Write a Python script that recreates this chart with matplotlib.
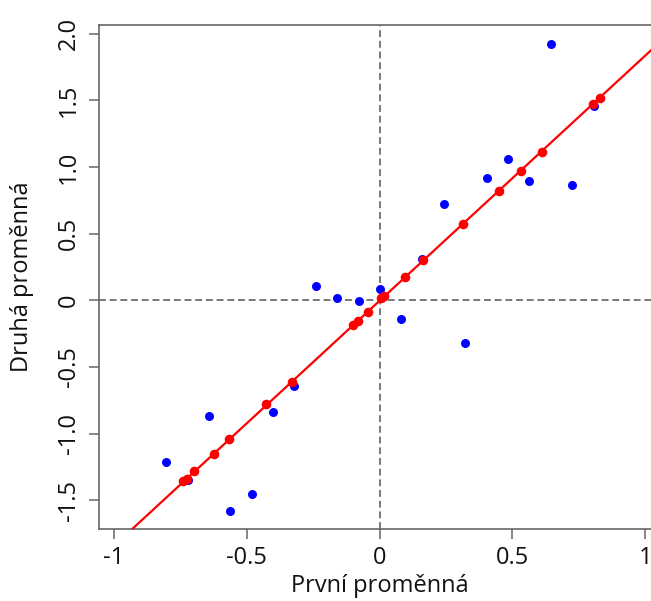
import matplotlib
matplotlib.use("Agg")
from matplotlib import pyplot as plt

plt.rcParams['font.family'] = ['Open Sans', 'DejaVu Sans']
plt.rcParams['axes.unicode_minus'] = False

# observed pairs
x_obs = [-0.803, -0.719, -0.642, -0.562, -0.481, -0.402, -0.321, -0.239,
         -0.161, -0.079, 0.002, 0.081, 0.159, 0.243, 0.323, 0.404,
         0.483, 0.564, 0.645, 0.725, 0.805]
y_obs = [-1.211, -1.348, -0.868, -1.581, -1.455, -0.836, -0.641, 0.105,
         0.020, -0.003, 0.081, -0.143, 0.308, 0.725, -0.318, 0.917,
         1.062, 0.897, 1.925, 0.863, 1.458]

# points projected onto the fitted line
x_proj = [-0.738, -0.725, -0.698, -0.623, -0.565, -0.427, -0.330, -0.100,
          -0.082, -0.042, 0.007, 0.017, 0.095, 0.163, 0.313, 0.449,
          0.532, 0.611, 0.803, 0.831]
y_proj = [-1.356, -1.343, -1.283, -1.151, -1.040, -0.780, -0.615, -0.185,
          -0.155, -0.085, 0.015, 0.032, 0.173, 0.300, 0.572, 0.818,
          0.968, 1.113, 1.473, 1.520]

line_intercept = -0.004
line_slope = 1.84

xticks = [-1, -0.5, 0, 0.5, 1]
xtick_labels = ["-1", "-0.5", "0", "0.5", "1"]
yticks = [-1.5, -1.0, -0.5, 0, 0.5, 1.0, 1.5, 2.0]
ytick_labels = ["-1.5", "-1.0", "-0.5", "0", "0.5", "1.0", "1.5", "2.0"]

fig = plt.figure(figsize=(6.51, 6.01), dpi=100)
ax = fig.add_axes([0.1521, 0.1193, 0.8618, 0.8391])

ax.set_xlim(-1.0553, 1.0553)
ax.set_ylim(-1.718, 2.065)

ax.axhline(0, color="#555555", lw=1.1, dashes=(4.5, 2.5), zorder=1)
ax.axvline(0, color="#555555", lw=1.1, dashes=(4.5, 2.5), zorder=1)

ax.scatter(x_obs, y_obs, s=42, color="#0000ff", linewidths=0, zorder=2)
ax.axline((0, line_intercept), slope=line_slope, color="#ff0000", lw=1.6, zorder=3)
ax.scatter(x_proj, y_proj, s=48, color="#ff0000", linewidths=0, zorder=4)

for side in ["left", "bottom", "top", "right"]:
    ax.spines[side].set_color("#666666")
    ax.spines[side].set_linewidth(1.2)

ax.set_xticks(xticks)
ax.set_xticklabels(xtick_labels)
ax.set_yticks(yticks)
ax.set_yticklabels(ytick_labels, rotation=90, va="center")
ax.tick_params(axis="both", length=7, width=1.1, color="#666666",
               labelsize=17, labelcolor="#111111")
ax.tick_params(axis="x", pad=5)
ax.tick_params(axis="y", pad=6)

ax.set_xlabel("První proměnná", fontsize=17, color="#111111")
ax.set_ylabel("Druhá proměnná", fontsize=17, color="#111111")
ax.xaxis.set_label_coords(0.5, -0.088)
ax.yaxis.set_label_coords(-0.115, 0.5)

fig.savefig("out.png", dpi=100)
